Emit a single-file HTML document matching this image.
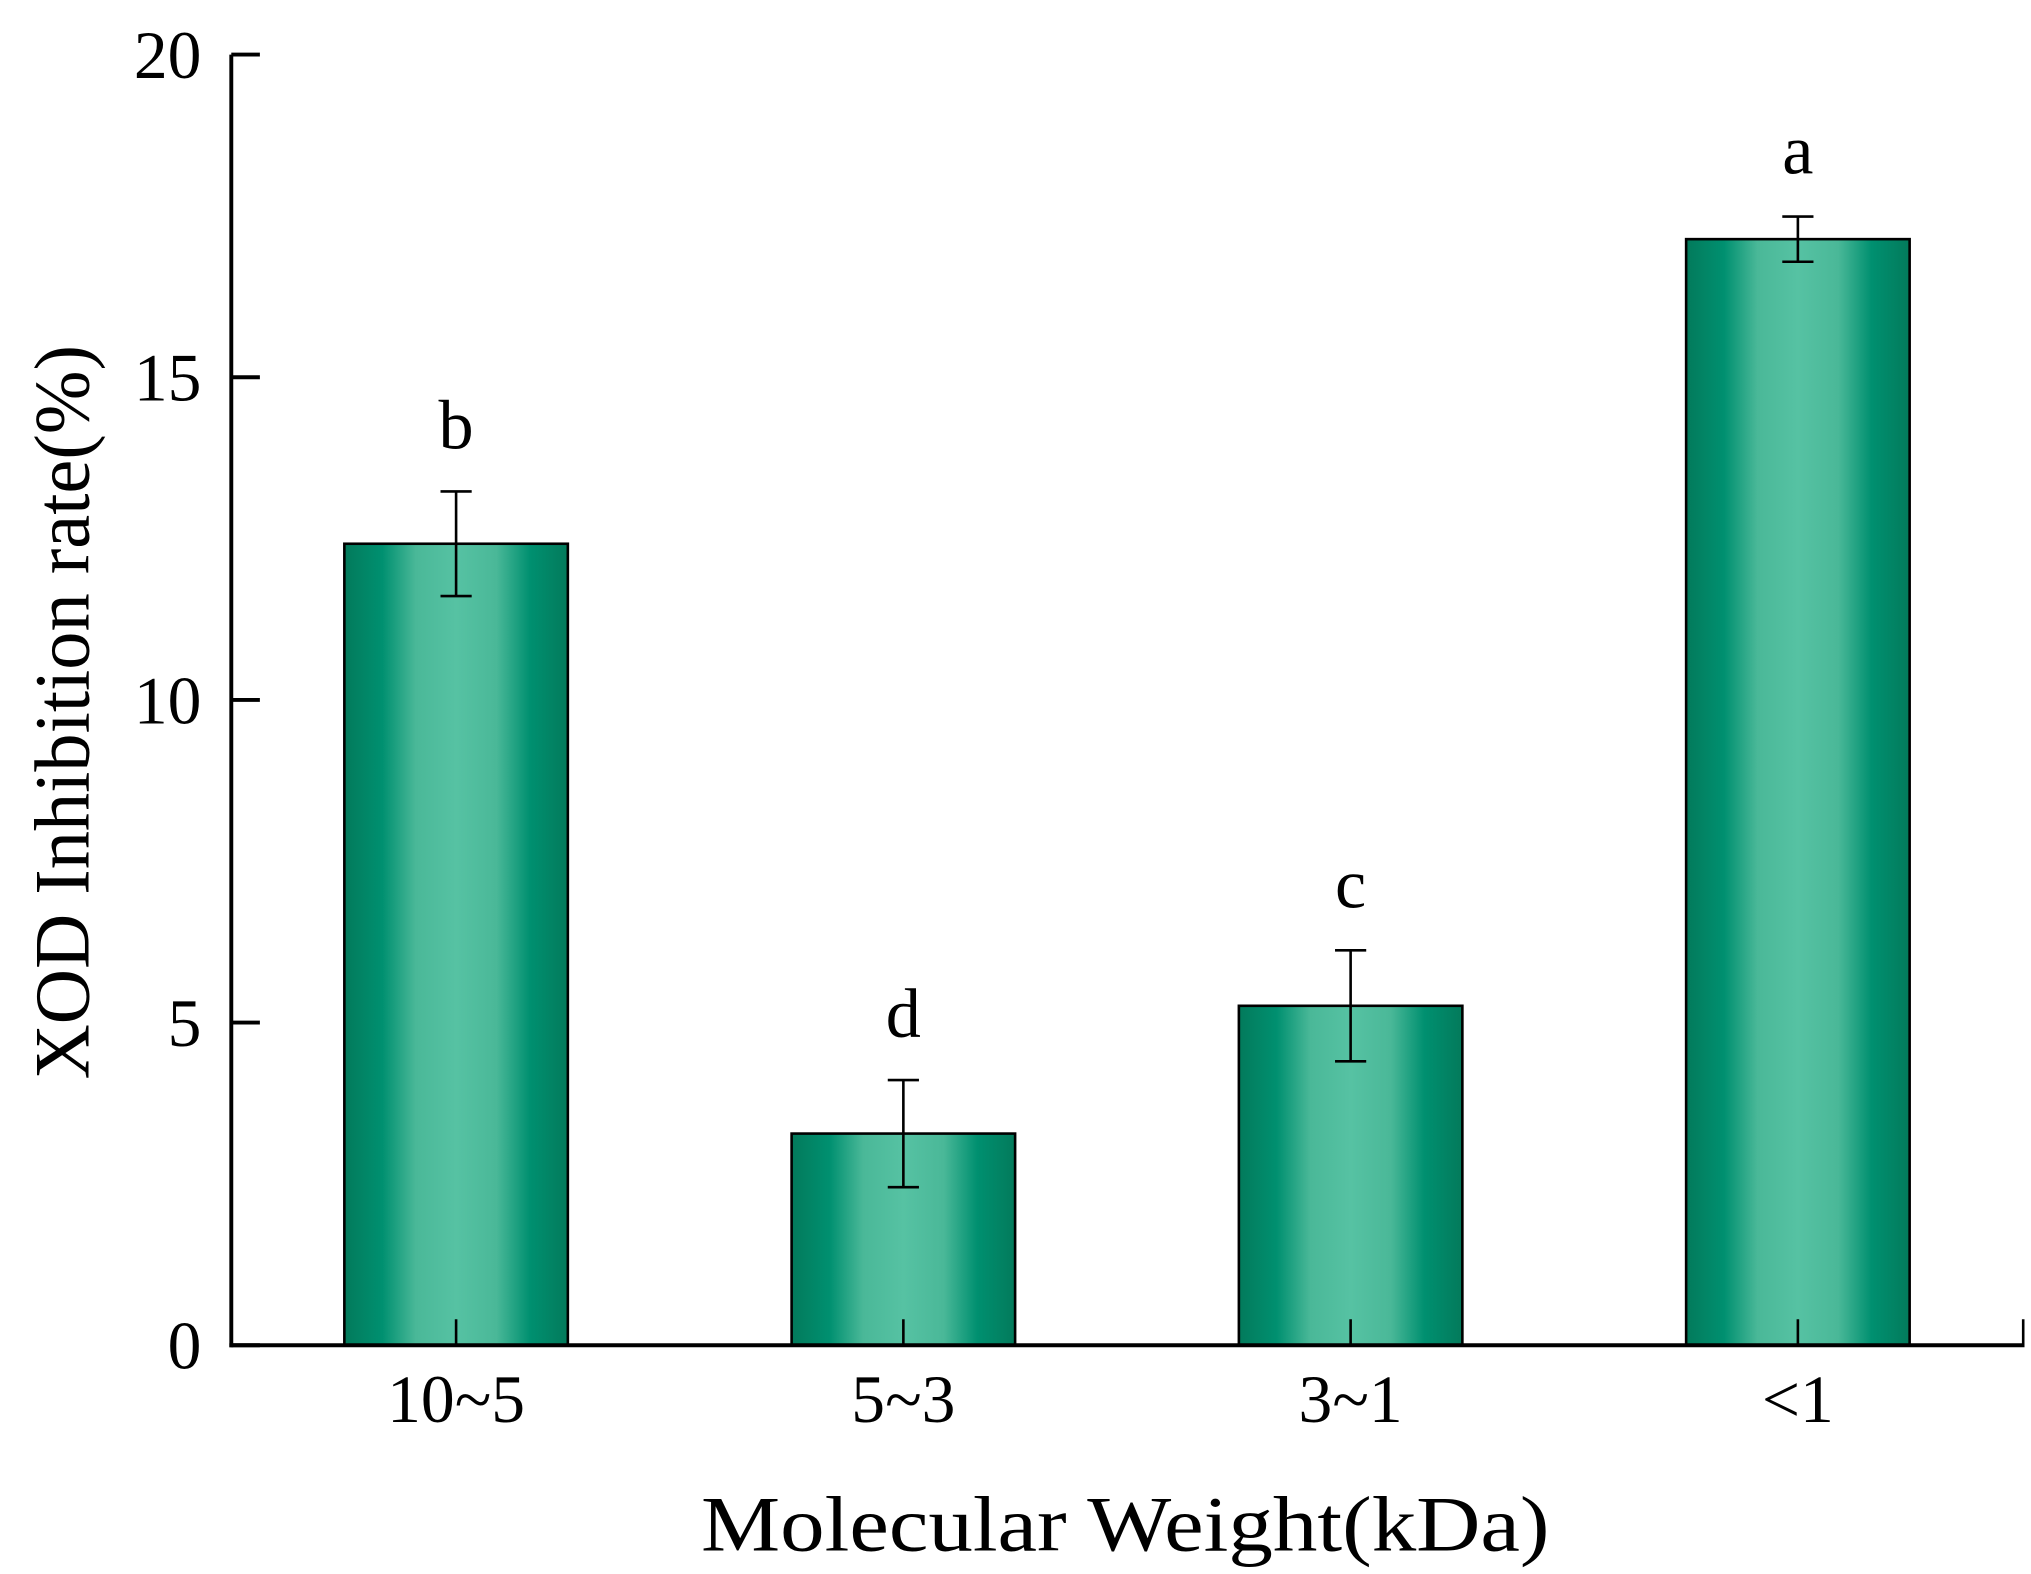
<!DOCTYPE html>
<html><head><meta charset="utf-8"><style>
html,body{margin:0;padding:0;background:#fff;}
svg{display:block;}
text{font-family:"Liberation Serif",serif;fill:#000;}
</style></head><body>
<svg id="chart" width="2031" height="1574" viewBox="0 0 1563 1211" preserveAspectRatio="none" xmlns="http://www.w3.org/2000/svg">
<defs>
<linearGradient id="barGrad" x1="0" x2="1" y1="0" y2="0">
<stop offset="0" stop-color="#037a5b"/>
<stop offset="0.17" stop-color="#009070"/>
<stop offset="0.32" stop-color="#4ab898"/>
<stop offset="0.5" stop-color="#56c2a3"/>
<stop offset="0.68" stop-color="#4ab898"/>
<stop offset="0.83" stop-color="#009070"/>
<stop offset="1" stop-color="#037a5b"/>
</linearGradient>
</defs>
<g id="plot"></g>
</svg>
<script>
const categories = ["10~5", "5~3", "3~1", "<1"];
const values = [12.42, 3.28, 5.26, 17.14];
const errors = [0.81, 0.83, 0.86, 0.35];
const letters = ["b", "d", "c", "a"];
const yTicks = [0, 5, 10, 15, 20];

const NS = "http://www.w3.org/2000/svg";
const g = document.getElementById("plot");
const X0 = 178, X1 = 1557, Y0 = 1035, Y1 = 42, YMAX = 20;
const y = v => Y0 - (v / YMAX) * (Y0 - Y1);
const bandW = 344.2, firstC = 351;
const xc = i => firstC + i * bandW;
const barW = 172;

function mk(tag, attrs, parent) {
  const e = document.createElementNS(NS, tag);
  for (const k in attrs) e.setAttribute(k, attrs[k]);
  (parent || g).appendChild(e);
  return e;
}

// bars
categories.forEach((c, i) => {
  const r = mk("rect", {x: xc(i) - barW / 2, y: y(values[i]), width: barW, height: Y0 - y(values[i]), fill: "url(#barGrad)", stroke: "#000", "stroke-width": 2});
  
  
  const top = y(values[i] + errors[i]), bot = y(values[i] - errors[i]);
  const eg = mk("g", {stroke: "#000", "stroke-width": 2});
  
  
  mk("line", {x1: xc(i), x2: xc(i), y1: top, y2: bot}, eg);
  mk("line", {x1: xc(i) - 12, x2: xc(i) + 12, y1: top, y2: top}, eg);
  mk("line", {x1: xc(i) - 12, x2: xc(i) + 12, y1: bot, y2: bot}, eg);
  const t = mk("text", {x: xc(i), y: top - 33, "text-anchor": "middle", "font-size": 54});
  t.textContent = letters[i];
  
  
  const tk = mk("line", {x1: xc(i), x2: xc(i), y1: Y0, y2: Y0 - 20, stroke: "#000", "stroke-width": 2});
  
  
  const lb = mk("text", {x: xc(i), y: 1094, "text-anchor": "middle", "font-size": 52});
  lb.textContent = c;
  
  
});

// axes
const ya = mk("line", {x1: X0, x2: X0, y1: Y1, y2: Y0 + 1.5, stroke: "#000", "stroke-width": 3});


const xa = mk("line", {x1: X0 - 1.5, x2: X1 + 1, y1: Y0, y2: Y0, stroke: "#000", "stroke-width": 3});


const rt = mk("line", {x1: X1, x2: X1, y1: Y0, y2: Y0 - 20, stroke: "#000", "stroke-width": 2});



yTicks.forEach(v => {
  const tk = mk("line", {x1: X0, x2: X0 + 22, y1: y(v), y2: y(v), stroke: "#000", "stroke-width": 3});
  
  
  const lb = mk("text", {x: 155, y: y(v) + 18, "text-anchor": "end", "font-size": 52});
  lb.textContent = String(v);
  
  
});

const xt = mk("text", {x: 866, y: 1193, "text-anchor": "middle", "font-size": 60, textLength: 653, lengthAdjust: "spacingAndGlyphs"});
xt.textContent = "Molecular Weight(kDa)";


const yt = mk("text", {x: 0, y: 0, "text-anchor": "middle", "font-size": 60, textLength: 565, lengthAdjust: "spacingAndGlyphs", transform: "translate(68,548) rotate(-90)"});
yt.textContent = "XOD Inhibition rate(%)";


</script>
</body></html>
